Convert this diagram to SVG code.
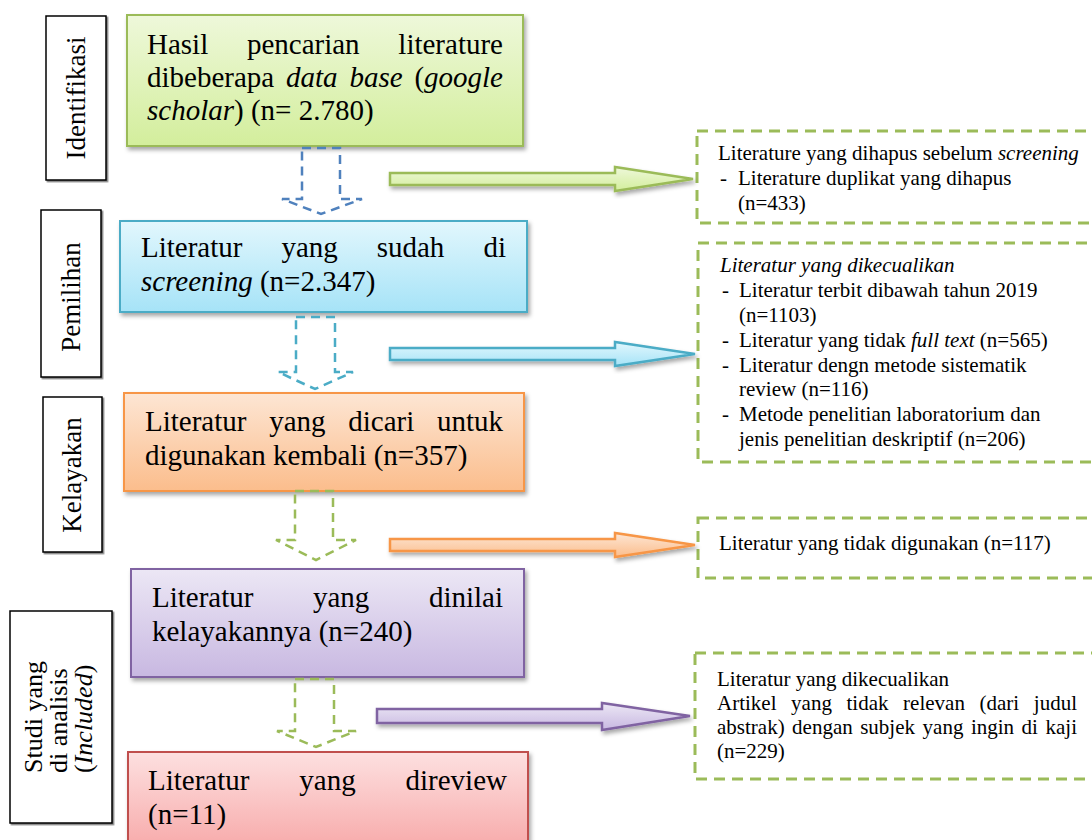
<svg xmlns="http://www.w3.org/2000/svg" width="1092" height="840" viewBox="0 0 1092 840" font-family="'Liberation Serif', 'Times New Roman', 'DejaVu Serif', serif">
<style>
text{font-family:'Liberation Serif','Times New Roman','DejaVu Serif',serif;fill:#000}
.main{font-size:29px}
.side{font-size:21px}
.lab{font-size:27px}
.lab2{font-size:26px}
.it{font-style:italic}
.lbox{fill:#fff;stroke:#000;stroke-width:1.5}
.dbox{fill:none;stroke:#9bbb59;stroke-width:3;stroke-dasharray:11 7}
.darr{fill:none;stroke-width:2.5;stroke-dasharray:9 6}
.rarr{stroke-width:2.5;stroke-linejoin:miter}
</style>
<defs>
<filter id="sh" x="-10%" y="-10%" width="130%" height="140%">
<feDropShadow dx="2" dy="3" stdDeviation="2" flood-color="#000" flood-opacity="0.35"/>
</filter>
<filter id="sh2" x="-10%" y="-10%" width="130%" height="130%">
<feDropShadow dx="1.5" dy="1.5" stdDeviation="0.6" flood-color="#000" flood-opacity="0.5"/>
</filter>
<linearGradient id="gG" x1="0" y1="0" x2="0" y2="1"><stop offset="0" stop-color="#eef8da"/><stop offset="1" stop-color="#d3ee9c"/></linearGradient>
<linearGradient id="gB" x1="0" y1="0" x2="0" y2="1"><stop offset="0" stop-color="#e2f7fd"/><stop offset="1" stop-color="#a6e3f7"/></linearGradient>
<linearGradient id="gO" x1="0" y1="0" x2="0" y2="1"><stop offset="0" stop-color="#fde6d4"/><stop offset="1" stop-color="#fbbd8c"/></linearGradient>
<linearGradient id="gP" x1="0" y1="0" x2="0" y2="1"><stop offset="0" stop-color="#ece7f5"/><stop offset="1" stop-color="#c8b8e1"/></linearGradient>
<linearGradient id="gR" x1="0" y1="0" x2="0" y2="1"><stop offset="0" stop-color="#fde0e0"/><stop offset="1" stop-color="#f7a8a8"/></linearGradient>
</defs>

<g id="label-identifikasi">
<rect class="lbox" x="46" y="16" width="60" height="164" filter="url(#sh2)"/>
<text class="lab" transform="translate(85,98) rotate(-90)" text-anchor="middle">Identifikasi</text>
</g>
<g id="label-pemilihan">
<rect class="lbox" x="41" y="210" width="60" height="167" filter="url(#sh2)"/>
<text class="lab" transform="translate(80,297) rotate(-90)" text-anchor="middle">Pemilihan</text>
</g>
<g id="label-kelayakan">
<rect class="lbox" x="43" y="397" width="59" height="155" filter="url(#sh2)"/>
<text class="lab" transform="translate(81,475) rotate(-90)" text-anchor="middle">Kelayakan</text>
</g>
<g id="label-studi">
<rect class="lbox" x="10" y="611" width="102" height="212" filter="url(#sh2)"/>
<text class="lab2" transform="translate(42,773) rotate(-90)">Studi yang</text>
<text class="lab2" transform="translate(67,773) rotate(-90)">di analisis</text>
<text class="lab2" transform="translate(92,773) rotate(-90)">(<tspan class="it">Included</tspan>)</text>
</g>

<g id="node-identifikasi">
<rect x="127" y="15" width="396" height="131" fill="url(#gG)" stroke="#9bbb59" stroke-width="2" filter="url(#sh)"/>
<text class="main"><tspan x="147" y="54">Hasil</tspan><tspan x="246.9" y="54">pencarian</tspan><tspan x="503" y="54" text-anchor="end">literature</tspan></text>
<text class="main"><tspan x="147" y="87">dibeberapa</tspan><tspan x="286" y="87" class="it">data</tspan><tspan x="349.4" y="87" class="it">base</tspan></text>
<text class="main" x="503" y="87" text-anchor="end">(<tspan class="it">google</tspan></text>
<text class="main" x="147" y="120"><tspan class="it">scholar</tspan>) (n= 2.780)</text>
</g>

<g id="node-screening">
<rect x="120" y="221" width="407" height="91" fill="url(#gB)" stroke="#4bacc6" stroke-width="2" filter="url(#sh)"/>
<text class="main"><tspan x="141" y="257">Literatur</tspan><tspan x="281.4" y="257">yang</tspan><tspan x="376.7" y="257">sudah</tspan><tspan x="506" y="257" text-anchor="end">di</tspan></text>
<text class="main" x="141" y="291"><tspan class="it">screening</tspan> (n=2.347)</text>
</g>

<g id="node-dicari">
<rect x="124" y="393" width="400" height="98" fill="url(#gO)" stroke="#f79646" stroke-width="2" filter="url(#sh)"/>
<text class="main"><tspan x="145" y="431">Literatur</tspan><tspan x="269.2" y="431">yang</tspan><tspan x="348.3" y="431">dicari</tspan><tspan x="503" y="431" text-anchor="end">untuk</tspan></text>
<text class="main" x="145" y="465">digunakan kembali (n=357)</text>
</g>

<g id="node-dinilai">
<rect x="131" y="569" width="393" height="108" fill="url(#gP)" stroke="#8064a2" stroke-width="2" filter="url(#sh)"/>
<text class="main"><tspan x="152" y="607">Literatur</tspan><tspan x="313" y="607">yang</tspan><tspan x="503" y="607" text-anchor="end">dinilai</tspan></text>
<text class="main" x="152" y="641">kelayakannya (n=240)</text>
</g>

<g id="node-direview">
<rect x="128" y="752" width="400" height="100" fill="url(#gR)" stroke="#c0504d" stroke-width="2" filter="url(#sh)"/>
<text class="main"><tspan x="148" y="790">Literatur</tspan><tspan x="299.3" y="790">yang</tspan><tspan x="507" y="790" text-anchor="end">direview</tspan></text>
<text class="main" x="148" y="824">(n=11)</text>
</g>

<g id="excl-1">
<rect class="dbox" x="697" y="131" width="420" height="92"/>
<text class="side" x="718" y="160">Literature yang dihapus sebelum <tspan class="it">screening</tspan></text>
<text class="side" x="720" y="185">-</text>
<text class="side" x="738" y="185">Literature duplikat yang dihapus</text>
<text class="side" x="738" y="210">(n=433)</text>
</g>

<g id="excl-2">
<rect class="dbox" x="698" y="243" width="420" height="219"/>
<text class="side it" x="720" y="272">Literatur yang dikecualikan</text>
<text class="side" x="722" y="297">-</text>
<text class="side" x="739" y="297">Literatur terbit dibawah tahun 2019</text>
<text class="side" x="739" y="322">(n=1103)</text>
<text class="side" x="722" y="347">-</text>
<text class="side" x="739" y="347">Literatur yang tidak <tspan class="it">full text</tspan> (n=565)</text>
<text class="side" x="722" y="372">-</text>
<text class="side" x="739" y="372">Literatur dengn metode sistematik</text>
<text class="side" x="739" y="396">review (n=116)</text>
<text class="side" x="722" y="421">-</text>
<text class="side" x="739" y="421">Metode penelitian laboratorium dan</text>
<text class="side" x="739" y="446">jenis penelitian deskriptif (n=206)</text>
</g>

<g id="excl-3">
<rect class="dbox" x="698" y="518" width="420" height="60"/>
<text class="side" x="719" y="550">Literatur yang tidak digunakan (n=117)</text>
</g>

<g id="excl-4">
<rect class="dbox" x="695" y="653" width="420" height="126"/>
<text class="side" x="717" y="686">Literatur yang dikecualikan</text>
<text class="side"><tspan x="717" y="710">Artikel</tspan><tspan x="791.1" y="710">yang</tspan><tspan x="846.5" y="710">tidak</tspan><tspan x="903.1" y="710">relevan</tspan><tspan x="979.5" y="710">(dari</tspan><tspan x="1077" y="710" text-anchor="end">judul</tspan></text>
<text class="side"><tspan x="717" y="734">abstrak)</tspan><tspan x="792.1" y="734">dengan</tspan><tspan x="860.2" y="734">subjek</tspan><tspan x="922.6" y="734">yang</tspan><tspan x="970.9" y="734">ingin</tspan><tspan x="1021.6" y="734">di</tspan><tspan x="1077" y="734" text-anchor="end">kaji</tspan></text>
<text class="side" x="717" y="758">(n=229)</text>
</g>

<g id="connectors">
<path class="darr" stroke="#4f81bd" d="M302,148 H340 V199 H362 L321,214 L282,199 H302 Z"/>
<path class="darr" stroke="#4bacc6" d="M296,317 H335 V372 H353 L315,389 L278,372 H296 Z"/>
<path class="darr" stroke="#9bbb59" d="M295,491 H333 V540 H356 L316,560 L276,540 H295 Z"/>
<path class="darr" stroke="#9bbb59" d="M295,679 H334 V731 H356 L316,747 L277,731 H295 Z"/>
<path class="rarr" fill="url(#gG)" stroke="#9bbb59" filter="url(#sh)" d="M390,173 H615 V167 L693,179 L615,191 V185 H390 Z"/>
<path class="rarr" fill="url(#gB)" stroke="#4bacc6" filter="url(#sh)" d="M390,348 H615 V342 L695,354 L615,366 V360 H390 Z"/>
<path class="rarr" fill="url(#gO)" stroke="#f79646" filter="url(#sh)" d="M390,539 H615 V533 L695,545 L615,557 V551 H390 Z"/>
<path class="rarr" fill="url(#gP)" stroke="#8064a2" filter="url(#sh)" d="M377,709 H602 V703 L690,716 L602,730 V723 H377 Z"/>
</g>
</svg>
